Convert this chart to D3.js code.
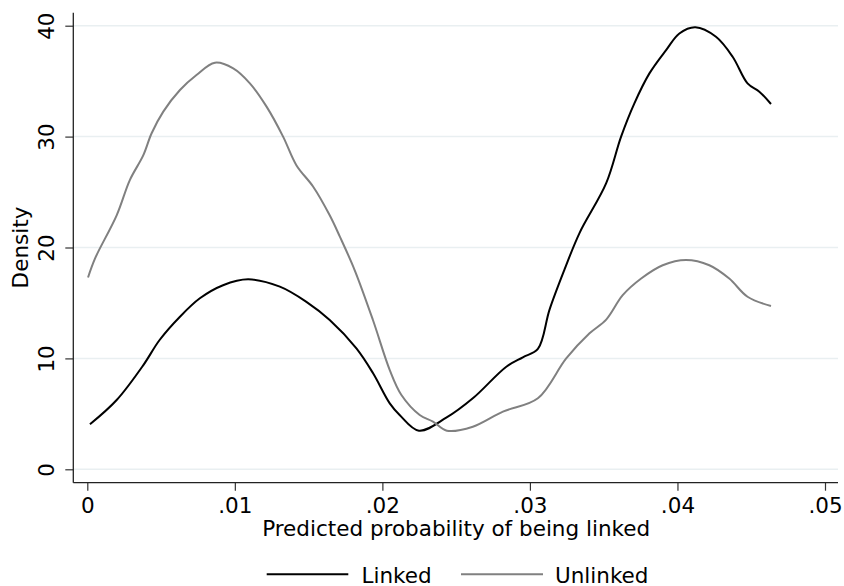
<!DOCTYPE html>
<html>
<head>
<meta charset="utf-8">
<script src="https://cdn.jsdelivr.net/npm/d3@7"></script>
<style>
  html, body { margin: 0; padding: 0; background: #fff; }
  svg { display: block; font-family: "DejaVu Sans", sans-serif; }
</style>
</head>
<body>
<svg id="chart" width="844" height="586"></svg>
<script>
// Kernel density estimates of predicted probability, by link status
const linkedX = [0.00018, 0.00199, 0.0038, 0.0049, 0.00628, 0.00763, 0.0092, 0.0109, 0.01305, 0.01485,
  0.01643, 0.01824, 0.01937, 0.0205, 0.02117, 0.02248, 0.02433, 0.02613, 0.0284, 0.02952, 0.03054,
  0.03133, 0.03234, 0.03336, 0.03517, 0.03618, 0.03708, 0.0381, 0.03923, 0.04013, 0.04121, 0.04261,
  0.04374, 0.04475, 0.04555, 0.04634];
const linkedY = [4.06, 6.25, 9.4, 11.66, 13.76, 15.42, 16.6, 17.13, 16.47, 15.1,
  13.46, 10.9, 8.66, 5.95, 4.9, 3.48, 4.65, 6.4, 9.25, 10.1, 10.85,
  14.4, 18.0, 21.3, 25.8, 30.0, 33.0, 35.7, 37.8, 39.3, 39.86, 39.0,
  37.2, 34.8, 34.05, 32.94];

const unlinkedX = [0.00005, 0.00052, 0.00199, 0.00289, 0.00379, 0.00436, 0.00515, 0.00628, 0.0074, 0.00865,
  0.00989, 0.01102, 0.01215, 0.01327, 0.01418, 0.0153, 0.01643, 0.01711, 0.01812, 0.01936, 0.0205,
  0.02129, 0.02253, 0.02343, 0.02437, 0.02613, 0.02817, 0.03054, 0.03246, 0.03404, 0.03517, 0.03629,
  0.03754, 0.039, 0.04058, 0.04216, 0.04351, 0.04475, 0.04634];
const unlinkedY = [17.3, 19.0, 22.9, 26.1, 28.3, 30.3, 32.25, 34.2, 35.55, 36.66,
  36.15, 34.8, 32.7, 30.0, 27.4, 25.5, 22.9, 21.0, 17.97, 13.46, 8.95,
  6.7, 4.9, 4.3, 3.48, 3.84, 5.2, 6.4, 10.0, 12.26, 13.5, 15.7,
  17.2, 18.4, 18.87, 18.4, 17.2, 15.56, 14.72];

const xTicks = [0, 0.01, 0.02, 0.03, 0.04, 0.05];
const xTickLabels = ["0", ".01", ".02", ".03", ".04", ".05"];
const yTicks = [0, 10, 20, 30, 40];

const seriesNames = ["Linked", "Unlinked"];
const seriesColors = ["#000000", "#808080"];

const series = [
  { name: seriesNames[0], color: seriesColors[0], pts: linkedX.map((x, i) => [x, linkedY[i]]) },
  { name: seriesNames[1], color: seriesColors[1], pts: unlinkedX.map((x, i) => [x, unlinkedY[i]]) }
];

const svg = d3.select("#chart");
const fontSize = 21.5;

const x = d3.scaleLinear().domain([0, 0.05]).range([87.3, 825]);
const y = d3.scaleLinear().domain([0, 40]).range([469.3, 25.7]);

const plotLeft = 73.3, plotRight = 838, plotTop = 12.7, plotBottom = 482.7;

// horizontal grid
svg.append("g").selectAll("line").data(yTicks).join("line")
  .attr("x1", plotLeft).attr("x2", plotRight)
  .attr("y1", d => y(d)).attr("y2", d => y(d))
  .attr("stroke", "#e9eff1").attr("stroke-width", 1.5);

// density curves
const line = d3.line().x(d => x(d[0])).y(d => y(d[1])).curve(d3.curveCatmullRom.alpha(0.5));
svg.append("g").selectAll("path").data(series).join("path")
  .attr("d", d => line(d.pts))
  .attr("fill", "none")
  .attr("stroke", d => d.color)
  .attr("stroke-width", 2)
  .attr("stroke-linejoin", "round");

// y axis
const yAxis = svg.append("g").attr("transform", `translate(${plotLeft},0)`)
  .call(d3.axisLeft(y).tickValues(yTicks).tickSize(8).tickPadding(0).tickFormat(d3.format("d")));
yAxis.select(".domain").remove();
yAxis.selectAll(".tick line").attr("stroke", "#333").attr("stroke-width", 1.2);
yAxis.selectAll(".tick text")
  .attr("x", null).attr("dy", null)
  .attr("transform", "translate(-19.3,0) rotate(-90)")
  .attr("text-anchor", "middle")
  .attr("font-size", fontSize).attr("font-family", "DejaVu Sans").attr("fill", "#000");
svg.append("line")
  .attr("x1", plotLeft).attr("x2", plotLeft).attr("y1", plotTop).attr("y2", plotBottom)
  .attr("stroke", "#222").attr("stroke-width", 1.3);

// x axis
const xAxis = svg.append("g").attr("transform", `translate(0,${plotBottom})`)
  .call(d3.axisBottom(x).tickValues(xTicks).tickSize(8).tickPadding(0)
    .tickFormat((d, i) => xTickLabels[i]));
xAxis.select(".domain").remove();
xAxis.selectAll(".tick line").attr("stroke", "#333").attr("stroke-width", 1.2);
xAxis.selectAll(".tick text")
  .attr("y", 30).attr("dy", null)
  .attr("font-size", fontSize).attr("font-family", "DejaVu Sans").attr("fill", "#000");
svg.append("line")
  .attr("x1", plotLeft).attr("x2", plotRight).attr("y1", plotBottom).attr("y2", plotBottom)
  .attr("stroke", "#222").attr("stroke-width", 1.3);

// axis titles
svg.append("text")
  .attr("x", (x(0) + x(0.05)) / 2).attr("y", 535.5)
  .attr("text-anchor", "middle").attr("font-size", fontSize)
  .text("Predicted probability of being linked");
svg.append("text")
  .attr("transform", `translate(28,${(y(0) + y(40)) / 2}) rotate(-90)`)
  .attr("text-anchor", "middle").attr("font-size", fontSize)
  .text("Density");

// legend
const legendItems = [
  { x1: 266.7, x2: 348.3, tx: 361.5 },
  { x1: 461, x2: 543, tx: 555 }
];
const lg = svg.append("g").selectAll("g").data(series).join("g");
lg.append("line")
  .attr("x1", (d, i) => legendItems[i].x1).attr("x2", (d, i) => legendItems[i].x2)
  .attr("y1", 574.3).attr("y2", 574.3)
  .attr("stroke", d => d.color).attr("stroke-width", 2);
lg.append("text")
  .attr("x", (d, i) => legendItems[i].tx).attr("y", 582.5)
  .attr("font-size", fontSize)
  .text(d => d.name);
</script>
</body>
</html>
